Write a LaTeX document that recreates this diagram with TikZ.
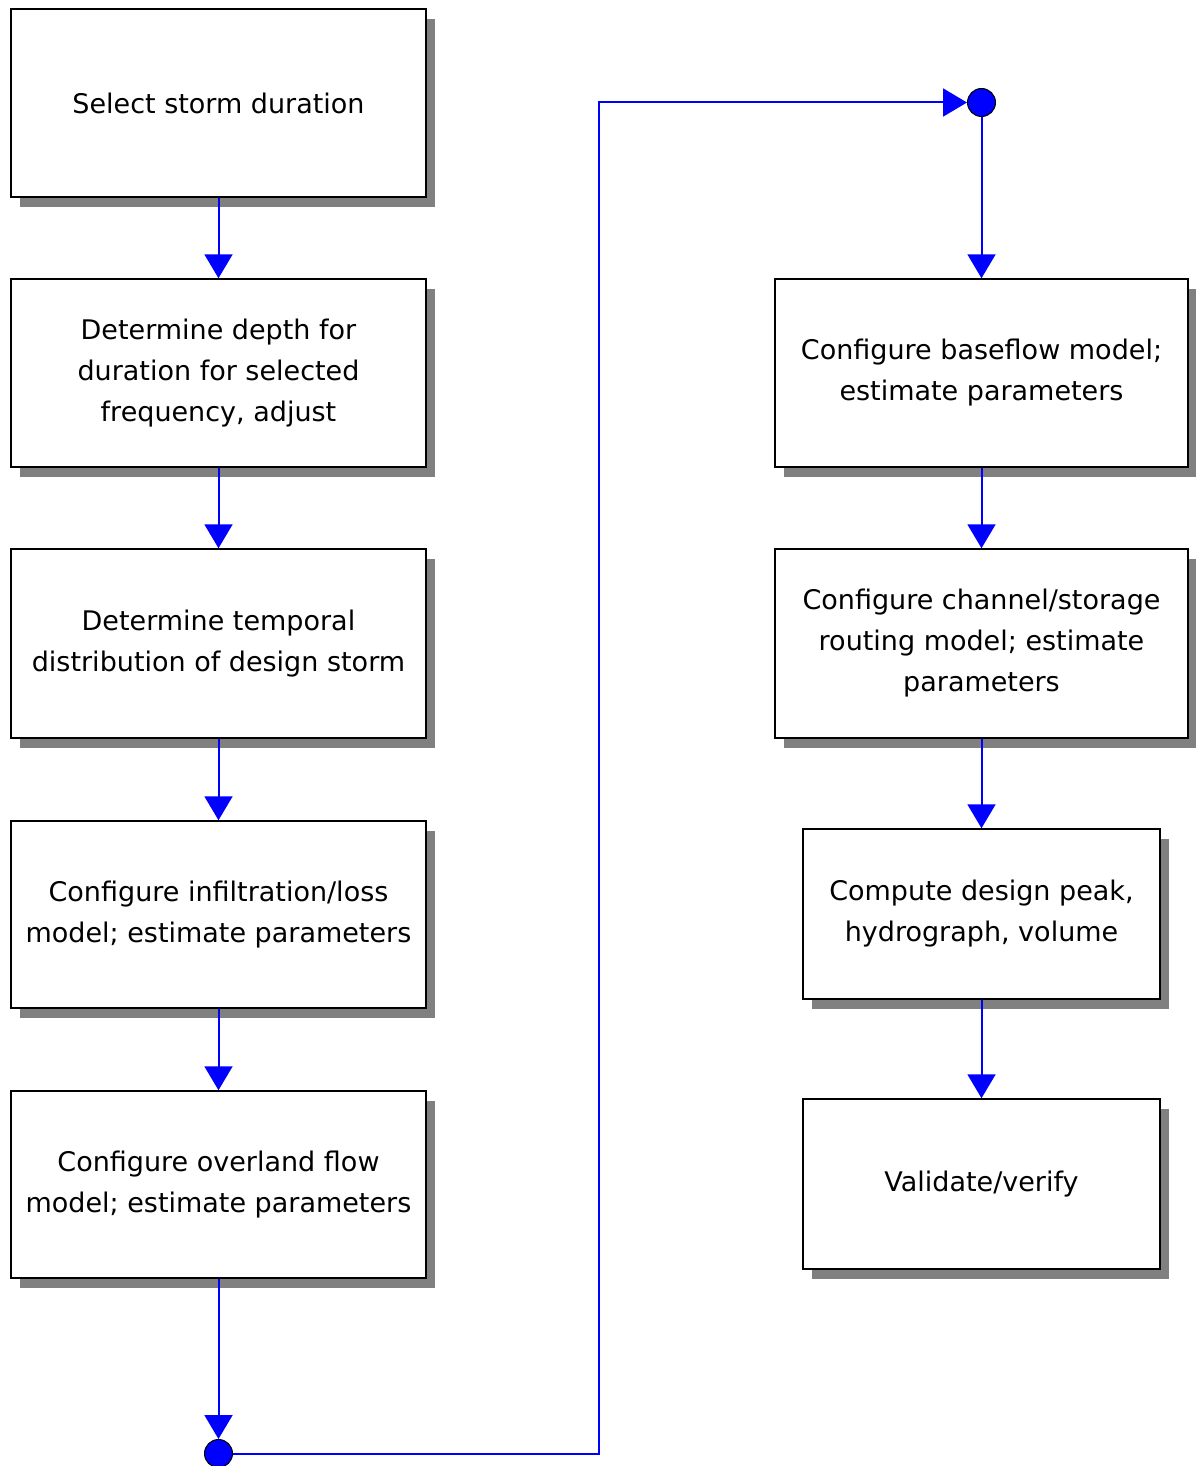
\documentclass[tikz,border=0pt]{standalone}
\usepackage{fontspec}
\setmainfont{DejaVu Sans}
\usetikzlibrary{arrows.meta,shadows}
\begin{document}
\begin{tikzpicture}[x=1pt,y=-1pt,
  box/.style={draw=black, line width=1.5pt, fill=white, inner sep=0pt, align=center,
    font=\fontsize{27}{41}\selectfont,
    drop shadow={shadow xshift=9pt, shadow yshift=-10pt, fill=black!50, opacity=1}},
  wide/.style={minimum width=415pt},
  narrow/.style={minimum width=357pt},
  conn/.style={draw=blue, line width=2pt, -{Triangle[width=28pt,length=24pt]}},
  dot/.style={circle, draw=black, line width=1pt, fill=blue, minimum size=28pt, inner sep=0pt}]
\useasboundingbox (0,0) rectangle (1195,1466);
\node[box, wide, minimum height=188pt] (b1) at (218.5,103) {Select storm duration};
\node[box, wide, minimum height=188pt] (b2) at (218.5,373) {Determine depth for\\duration for selected\\frequency, adjust};
\node[box, wide, minimum height=189pt] (b3) at (218.5,643.5) {Determine temporal\\distribution of design storm};
\node[box, wide, minimum height=187pt] (b4) at (218.5,914.5) {Configure infiltration/loss\\model; estimate parameters};
\node[box, wide, minimum height=187pt] (b5) at (218.5,1184.5) {Configure overland flow\\model; estimate parameters};
\node[box, minimum width=413pt, minimum height=188pt] (b6) at (981.5,373) {Configure baseflow model;\\estimate parameters};
\node[box, minimum width=413pt, minimum height=189pt] (b7) at (981.5,643.5) {Configure channel/storage\\routing model; estimate\\parameters};
\node[box, narrow, minimum height=170pt] (b8) at (981.5,914) {Compute design peak,\\hydrograph, volume};
\node[box, narrow, minimum height=170pt] (b9) at (981.5,1184) {Validate/verify};
\node[dot] (dB) at (218.5,1453.5) {};
\node[dot] (dT) at (981.5,102.5) {};
\coordinate (c1) at (599,1453.5);
\coordinate (c2) at (599,102.5);
\draw[conn] (b1) -- (b2);
\draw[conn] (b2) -- (b3);
\draw[conn] (b3) -- (b4);
\draw[conn] (b4) -- (b5);
\draw[conn] (b5) -- (dB);
\draw[conn] (dB) -- (c1) -- (c2) -- (dT);
\draw[conn] (dT) -- (b6);
\draw[conn] (b6) -- (b7);
\draw[conn] (b7) -- (b8);
\draw[conn] (b8) -- (b9);
\end{tikzpicture}
\end{document}
